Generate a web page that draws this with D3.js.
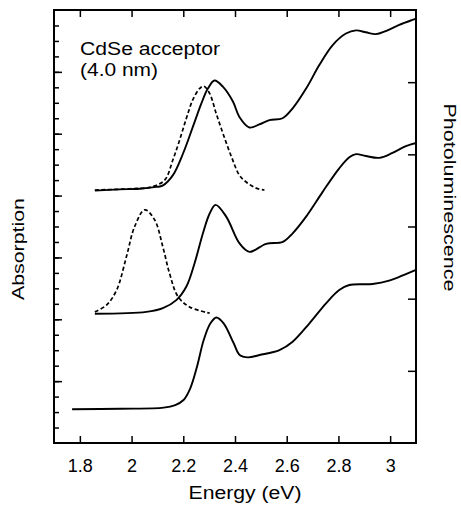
<!DOCTYPE html>
<html>
<head>
<meta charset="utf-8">
<style>
  body { margin: 0; background: #fff; }
  svg { display: block; }
  text { font-family: "Liberation Sans", Arial, sans-serif; fill: #000; }
</style>
</head>
<body>
<script src="https://cdn.jsdelivr.net/npm/d3@7/dist/d3.min.js"></script>
<script>
// ---- data: [energy eV, signal a.u.] ----
var energyTicks = [1.8, 2, 2.2, 2.4, 2.6, 2.8, 3];

var absTop = [[1.858,4.08],[1.954,4.10],[2.031,4.11],[2.096,4.14],[2.120,4.16],[2.160,4.33],[2.199,4.68],
  [2.237,5.11],[2.270,5.49],[2.295,5.73],[2.321,5.86],[2.353,5.76],[2.392,5.52],[2.417,5.27],[2.456,5.10],
  [2.494,5.15],[2.533,5.22],[2.584,5.25],[2.623,5.41],[2.675,5.73],[2.726,6.11],[2.777,6.43],[2.829,6.62],
  [2.868,6.67],[2.906,6.64],[2.945,6.61],[2.983,6.66],[3.035,6.76],[3.086,6.84],[3.1,6.86]];

var plTop = [[1.858,4.09],[1.993,4.11],[2.077,4.14],[2.128,4.25],[2.160,4.58],[2.186,4.90],[2.212,5.25],
  [2.237,5.55],[2.263,5.73],[2.279,5.77],[2.302,5.65],[2.327,5.33],[2.353,5.01],[2.386,4.63],[2.417,4.33],
  [2.443,4.22],[2.482,4.12],[2.514,4.09]];

var absMid = [[1.858,2.09],[2.057,2.12],[2.121,2.18],[2.173,2.31],[2.212,2.53],[2.244,2.91],[2.276,3.39],
  [2.302,3.71],[2.325,3.85],[2.366,3.66],[2.417,3.23],[2.456,3.09],[2.520,3.22],[2.585,3.25],[2.623,3.39],
  [2.675,3.66],[2.739,4.06],[2.803,4.44],[2.842,4.62],[2.868,4.67],[2.906,4.64],[2.958,4.61],[3.009,4.69],
  [3.061,4.80],[3.1,4.85]];

var plMid = [[1.858,2.12],[1.903,2.23],[1.942,2.47],[1.980,3.01],[2.012,3.50],[2.051,3.77],[2.089,3.61],
  [2.121,3.17],[2.147,2.74],[2.179,2.37],[2.224,2.20],[2.302,2.10]];

var absBot = [[1.770,0.545],[1.957,0.554],[2.124,0.571],[2.169,0.614],[2.201,0.695],[2.227,0.884],[2.253,1.233],
  [2.279,1.665],[2.305,1.935],[2.328,2.03],[2.356,1.935],[2.395,1.612],[2.418,1.423],[2.450,1.385],[2.495,1.423],
  [2.572,1.503],[2.623,1.638],[2.688,1.935],[2.752,2.258],[2.803,2.473],[2.842,2.554],[2.932,2.570],[2.996,2.624],
  [3.061,2.732],[3.1,2.80]];

// --------------------------- layout ---------------------------
var W = 461, H = 506;
var margin = {top: 10, right: 45, bottom: 63, left: 54},
    width = W - margin.left - margin.right,
    height = H - margin.top - margin.bottom;

var x = d3.scaleLinear().domain([1.7, 3.1]).range([0, width]);
var y = d3.scaleLinear().domain([0, 7]).range([height, 0]);     // absorption (left)
var y2 = d3.scaleLinear().domain([0, 6]).range([height, 0]);    // photoluminescence (right)

var svg = d3.select("body").append("svg")
    .attr("width", W).attr("height", H);

var g = svg.append("g")
    .attr("transform", "translate(" + margin.left + "," + margin.top + ")");

// curves
var line = d3.line()
    .x(function(d){ return x(d[0]); })
    .y(function(d){ return y(d[1]); })
    .curve(d3.curveCatmullRom.alpha(0.5));

[absTop, absMid, absBot].forEach(function(s){
  g.append("path").datum(s)
    .attr("d", line)
    .attr("fill", "none").attr("stroke", "#000")
    .attr("stroke-width", 1.9).attr("stroke-linejoin", "round");
});
[plTop, plMid].forEach(function(s){
  g.append("path").datum(s)
    .attr("d", line)
    .attr("fill", "none").attr("stroke", "#000")
    .attr("stroke-width", 1.7).attr("stroke-dasharray", "4,2.5");
});

// axes, ticks pointing inward
var xBottom = d3.axisBottom(x).tickValues(energyTicks)
    .tickSize(-7).tickPadding(16)
    .tickFormat(function(d){ return d3.format("")(d); });
var gx = g.append("g").attr("transform", "translate(0," + height + ")").call(xBottom);
gx.selectAll("text").attr("font-size", 18).style("font-family", "Liberation Sans, Arial, sans-serif");

g.append("g").call(d3.axisTop(x).tickValues(energyTicks).tickSize(-7).tickFormat(""));

g.append("g").call(d3.axisLeft(y).tickValues(d3.range(0.25, 7, 0.25)).tickSize(-5).tickFormat(""));
g.append("g").call(d3.axisLeft(y).tickValues(d3.range(1, 7, 1)).tickSize(-8).tickFormat(""));

g.append("g").attr("transform", "translate(" + width + ",0)")
  .call(d3.axisRight(y2).tickValues(d3.range(1, 6, 1)).tickSize(-8).tickFormat(""));

g.selectAll(".domain").remove();
g.selectAll(".tick line").attr("stroke", "#000").attr("stroke-width", 1.5);

// frame
g.append("rect")
  .attr("width", width).attr("height", height)
  .attr("fill", "none").attr("stroke", "#000").attr("stroke-width", 2);

// labels
svg.append("text")
  .attr("x", 245).attr("y", 498.5)
  .attr("text-anchor", "middle")
  .attr("font-size", 18).attr("textLength", 113).attr("lengthAdjust", "spacingAndGlyphs")
  .text("Energy (eV)");

svg.append("text")
  .attr("transform", "translate(24,249) rotate(-90)")
  .attr("text-anchor", "middle").attr("font-size", 17)
  .attr("textLength", 102).attr("lengthAdjust", "spacingAndGlyphs")
  .text("Absorption");

svg.append("text")
  .attr("transform", "translate(444,197.5) rotate(90)")
  .attr("text-anchor", "middle").attr("font-size", 17)
  .attr("textLength", 188).attr("lengthAdjust", "spacingAndGlyphs")
  .text("Photoluminescence");

svg.append("text")
  .attr("x", 80).attr("y", 54.5)
  .attr("font-size", 17.5).attr("textLength", 140).attr("lengthAdjust", "spacingAndGlyphs")
  .text("CdSe acceptor");
svg.append("text")
  .attr("x", 80).attr("y", 75.5)
  .attr("font-size", 17.5).attr("textLength", 78).attr("lengthAdjust", "spacingAndGlyphs")
  .text("(4.0 nm)");
</script>
</body>
</html>
